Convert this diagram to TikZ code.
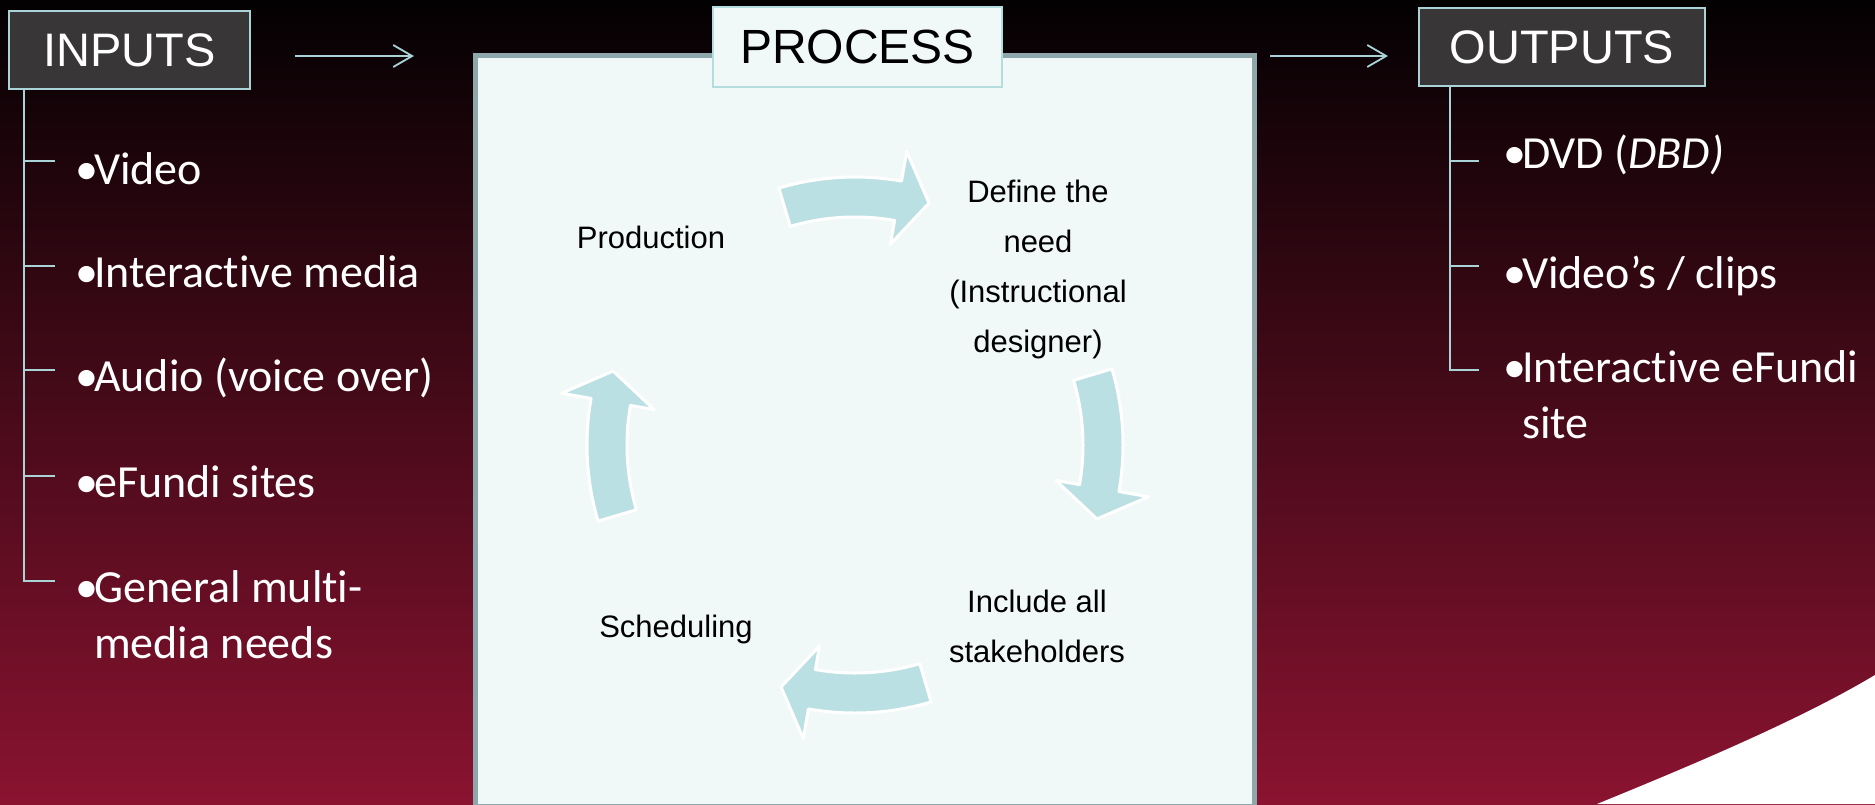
\documentclass[tikz,border=0pt]{standalone}
\usepackage{fontspec}
\setmainfont{Liberation Sans}
\newfontfamily\listfont[Ligatures={NoCommon}]{Carlito}
\usetikzlibrary{arrows.meta}

\definecolor{bgtop}{HTML}{030102}
\definecolor{bgmid}{HTML}{460A18}
\definecolor{bgbot}{HTML}{8A1330}
\definecolor{linecol}{HTML}{A9D3D6}
\definecolor{headfill}{HTML}{383636}
\definecolor{framecol}{HTML}{8DA7AA}
\definecolor{framefill}{HTML}{F1F9F8}
\definecolor{tabline}{HTML}{B5DDE0}
\definecolor{cyclefill}{HTML}{BBE0E3}

\newcommand{\itembullet}{•\kern-4pt}

\begin{document}
\begin{tikzpicture}[x=1pt, y=-1pt,
			header/.style={draw=linecol, line width=2pt, fill=headfill, text=white, minimum height=78pt, inner sep=0pt, font=\fontsize{47}{56}\selectfont},
			item/.style={anchor=base west, inner sep=0pt, text=white, align=left, font=\listfont\fontsize{46}{56}\selectfont},
			cyclelabel/.style={anchor=base, inner sep=0pt, align=center, text=black, font=\fontsize{31}{50}\selectfont},
			tree/.style={draw=linecol, line width=1.8pt},
			arrow/.style={-{Straight Barb[length=19pt,width=22pt]}, draw=linecol, line width=1.8pt},
			cyclearrow/.style={fill=cyclefill, draw=white, line width=3pt, line join=round}
			]
			\useasboundingbox (0,0) rectangle (1875,804);
			
			% Background
			\shade[top color=bgtop, middle color=bgmid, bottom color=bgbot] (0,0) rectangle (1875,804);
			\fill[white] (1597,804) .. controls (1690,766) and (1800,720) .. (1875,675) -- (1875,804) -- cycle;
			
			% Process frame
			\draw[draw=framecol, line width=5pt, fill=framefill] (475.5,55.5) rectangle (1254.5,806);
			
			% Headers
			\node[header, minimum width=241pt] (inputs) at (129.5,50) {INPUTS};
			\node[header, minimum width=286pt] (outputs) at (1562,47) {OUTPUTS};
			\node[draw=tabline, line width=2pt, fill=framefill, minimum width=289pt, minimum height=80pt, inner sep=0pt, font=\fontsize{48}{56}\selectfont] (process) at (857.5,47) {PROCESS};
			
			% Arrows between the columns
			\coordinate (ina) at (295,56);
			\coordinate (inb) at (414,56);
			\coordinate (outa) at (1270,56);
			\coordinate (outb) at (1388,56);
			\draw[arrow] (ina) -- (inb);
			\draw[arrow] (outa) -- (outb);
			
			% Inputs list (base = last line)
			\node[item] (in1) at (75,184) {\itembullet Video};
			\node[item] (in2) at (75,287) {\itembullet Interactive media};
			\node[item] (in3) at (75,391) {\itembullet Audio (voice over)};
			\node[item] (in4) at (75,497) {\itembullet eFundi sites};
			\node[item] (in5) at (75,658) {\itembullet General multi-\\\hphantom{\itembullet}media needs};
			
			\coordinate (inroot) at ([xshift=16pt]inputs.south west);
			\foreach \y [count=\i] in {161,266,370,476,581}
				\coordinate (inb\i) at (55,\y);
			\foreach \i in {1,...,5}
				\draw[tree] (inroot) |- (inb\i);
			
			% Outputs list
			\node[item] (out1) at (1503,168) {\itembullet DVD (\textit{DBD)}};
			\node[item] (out2) at (1503,288) {\itembullet Video’s / clips};
			\node[item] (out3) at (1503,438) {\itembullet Interactive eFundi\\\hphantom{\itembullet}site};
			
			\coordinate (outroot) at ([xshift=32pt]outputs.south west);
			\foreach \y [count=\i] in {161,266,370}
				\coordinate (outb\i) at (1479,\y);
			\foreach \i in {1,...,3}
				\draw[tree] (outroot) |- (outb\i);
			
			% Cycle
			\begin{scope}[shift={(855,445)}]
				\foreach \t [evaluate=\t as \a using \t+16.5, evaluate=\t as \b using \t-10, evaluate=\t as \c using \t-17] in {90,0,-90,180}
					\filldraw[cyclearrow] (\a:228pt) -- (\a:268pt) arc[start angle=\a, end angle=\b, radius=268pt]
						-- (\b:298pt) -- (\c:253pt) -- (\b:204pt) -- (\b:228pt)
						arc[start angle=\b, end angle=\a, radius=228pt] -- cycle;
			\end{scope}
			
			\node[cyclelabel] (prod) at (651,248) {Production};
			\node[cyclelabel] (define) at (1038,352) {Define the\\need\\(Instructional\\designer)};
			\node[cyclelabel] (include) at (1037,662) {Include all\\stakeholders};
			\node[cyclelabel] (sched) at (676,637) {Scheduling};
		\end{tikzpicture}
\end{document}
